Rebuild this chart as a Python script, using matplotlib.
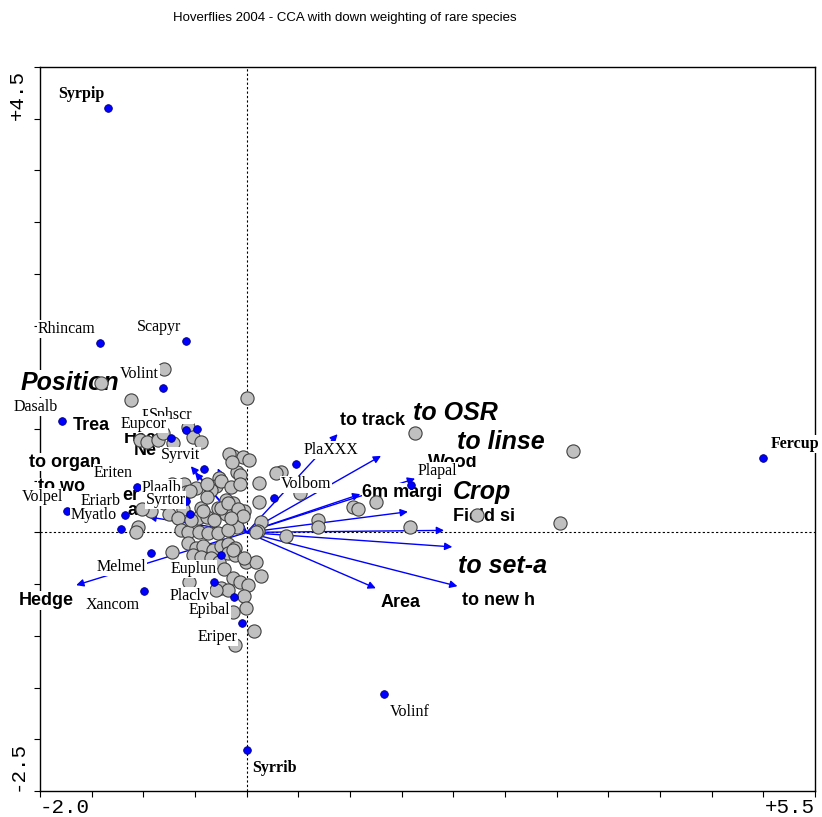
import matplotlib.pyplot as plt

# CCA site scores (grey circles)
site_x = [-0.80, -1.41, -1.12, 0.00, 1.63, 3.16, 2.23, 3.03, 1.58, 1.25,
          1.03, 1.08, 0.69, 0.69, 0.38, 0.52, 0.33, 0.12, 0.12, 0.14,
          0.11, -0.03, -0.13, -0.09, -0.09, -0.13, -0.04, 0.02, -0.09, -0.06,
          -0.17, -0.14, -0.27, -0.30, -0.35, -0.61, -0.49, -0.69, -0.59, -0.93,
          -0.80, -0.62, -0.44, -0.38, -0.28, -0.20, -0.47, -0.38, -0.32, -0.20,
          -1.05, -1.07, -1.01, -1.03, -0.96, -0.86, -0.81, -0.57, -0.52, -0.44,
          -0.71, -0.72, -0.75, -0.66, -0.64, -0.57, -0.54, -0.46, -0.37, -0.28,
          -0.18, -0.42, -0.25, -0.18, -0.08, -0.04, -0.15, 0.09, -0.57, -0.49,
          -0.42, -0.33, -0.25, -0.18, -0.11, -0.52, -0.44, -0.35, -0.27, -0.18,
          -0.11, -0.22, -0.01, 0.09, 0.14, -0.13, -0.06, 0.01, -0.25, -0.18,
          -0.30, -0.03, -0.01, -0.13, 0.07, -0.11, -0.56, -0.13, -0.03, -0.38,
          -0.25, -0.15, -0.06, 0.28, -0.72, -0.55]
site_y = [1.58, 1.44, 1.28, 1.30, 0.96, 0.79, 0.17, 0.09, 0.05, 0.29,
          0.25, 0.23, 0.12, 0.05, -0.03, 0.38, 0.58, 0.48, 0.29, 0.10,
          0.01, 0.21, 0.28, 0.12, 0.05, 0.74, 0.73, 0.70, 0.58, 0.56,
          0.76, 0.68, 0.53, 0.45, 0.41, 0.47, 0.43, 0.34, 0.39, 0.21,
          0.28, 0.23, 0.24, 0.34, 0.24, 0.31, 0.14, 0.15, 0.12, 0.18,
          0.05, 0.00, 0.23, 0.89, 0.87, 0.89, 0.96, 1.02, 0.92, 0.87,
          0.86, -0.19, 0.18, 0.14, 0.02, 0.00, 0.12, 0.00, -0.01, -0.01,
          0.02, 0.21, 0.24, 0.28, 0.23, 0.16, 0.14, 0.00, -0.10, -0.15,
          -0.13, -0.17, -0.13, -0.11, -0.15, -0.22, -0.24, -0.25, -0.29, -0.20,
          -0.22, -0.35, -0.29, -0.29, -0.42, -0.44, -0.48, -0.51, -0.54, -0.56,
          -0.56, -0.61, -0.73, -0.77, -0.95, -1.09, -0.48, -0.17, -0.25, 0.47,
          0.50, 0.44, 0.47, 0.57, 0.47, 0.40]

# species scores (blue dots)
species = ["Syrpip", "Rhincam", "Scapyr", "Volint", "Dasalb", "Plapel", "Sphscr",
           "Eupcor", "Syrvit", "Eriten", "Volpel", "Eriarb", "Myatlo", "Plaalb",
           "Syrtor", "Melmel", "Xancom", "Euplun", "Placlv", "Epibal", "Eriper",
           "Syrrib", "Volinf", "Fercup", "PlaXXX", "Volbom", "Plapal"]
spec_x = [-1.34, -1.42, -0.59, -0.81, -1.79, -0.59, -0.48, -0.73, -0.41, -1.06,
          -1.74, -1.18, -1.22, -0.59, -0.55, -0.93, -0.99, -0.25, -0.32, -0.12,
          -0.05, 0.00, 1.33, 5.00, 0.48, 0.26, 1.59]
spec_y = [4.10, 1.83, 1.85, 1.40, 1.08, 0.99, 1.00, 0.91, 0.61, 0.44,
          0.21, 0.17, 0.03, 0.30, 0.18, -0.20, -0.57, -0.22, -0.48, -0.62,
          -0.88, -2.10, -1.56, 0.72, 0.66, 0.33, 0.46]
spec_side = ["ul"] * 15 + ["ll"] * 6 + ["lr", "lr", "ur", "ur", "ur", "ur"]
bold_species = ["Syrpip", "Syrrib", "Fercup"]

# environmental variables (arrows)
env_names = ["to track", "", "Wood", "6m margi", "", "Field si", "", "to new h",
             "Area", "Hedge", "", "", "", "", ""]
env_x = [0.88, 1.30, 1.63, 1.10, 1.56, 1.91, 1.99, 2.04, 1.25, -1.65,
         -0.28, -0.54, -0.50, -0.95, -0.10]
env_y = [0.95, 0.74, 0.52, 0.37, 0.20, 0.02, -0.14, -0.52, -0.54, -0.51,
         0.62, 0.64, 0.58, 0.15, 0.08]

# nominal variables (centroid labels)
nominal_names = ["Position", "to OSR", "to linse", "Crop", "to set-a"]
nominal_x = [-2.19, 1.61, 2.04, 1.99, 2.05]
nominal_y = [1.44, 1.15, 0.87, 0.39, -0.32]

# labels of short arrows inside the crowded centre
crowd_names = ["Trea", "Hea", "Ne", "to organ", "to wo", "er", "ac"]
crowd_x = [-1.68, -1.19, -1.09, -2.11, -2.02, -1.20, -1.15]
crowd_y = [1.03, 0.91, 0.79, 0.68, 0.44, 0.36, 0.21]

# label offsets (points)
side_off = {"ul": (-3, 10, "right"), "ll": (-3, -10, "right"),
            "ur": (5, 10, "left"), "lr": (4, -13, "left")}
env_off = {"to track": (2, 10, "left"), "Wood": (9, 11.5, "left"),
           "6m margi": (1.5, 1.5, "left"), "Field si": (6.5, 10, "left"),
           "to new h": (3.5, -10, "left"), "Area": (3.5, -10, "left"),
           "Hedge": (-2, -11, "right")}

sans = "Liberation Sans"
serif = "Liberation Serif"
mono = "Liberation Mono"
white = dict(boxstyle="square,pad=0.05", fc="white", ec="none")

fig = plt.figure(figsize=(8.22, 8.17), dpi=100)
ax = fig.add_axes([40 / 822, 1 - 791 / 817, 775 / 822, 724 / 817])
ax.set_xlim(-2.0, 5.5)
ax.set_ylim(-2.5, 4.5)

# dotted zero lines
ax.axhline(0, color="black", lw=0.8, ls=(0, (2, 2)), zorder=0.5)
ax.axvline(0, color="black", lw=0.8, ls=(0, (2, 2)), zorder=0.5)

# arrows
for name, x, y in zip(env_names, env_x, env_y):
    ax.annotate("", xy=(x, y), xytext=(0, 0),
                arrowprops=dict(arrowstyle="-|>", color="#0000ff", lw=1.0,
                                mutation_scale=11, shrinkA=0, shrinkB=0),
                zorder=1)
    if name:
        dx, dy, ha = env_off[name]
        ax.annotate(name, xy=(x, y), xytext=(dx, dy), textcoords="offset points",
                    ha=ha, va="center", fontsize=13, fontweight="bold",
                    family=sans, bbox=white, zorder=2.6, annotation_clip=False)

for name, x, y in zip(nominal_names, nominal_x, nominal_y):
    ax.text(x, y, name, ha="left", va="center", fontsize=18, fontweight="bold",
            fontstyle="italic", family=sans, bbox=white, zorder=2.6, clip_on=False)

for name, x, y in zip(crowd_names, crowd_x, crowd_y):
    ax.text(x, y, name, ha="left", va="center", fontsize=13, fontweight="bold",
            family=sans, bbox=white, zorder=2.6, clip_on=False)

# sites
ax.plot(site_x, site_y, "o", ms=9.5, mfc="#c0c0c0", mec="#404040", mew=0.8,
        ls="none", zorder=3)

# species
ax.plot(spec_x, spec_y, "o", ms=5.5, mfc="#0000ff", mec="#000080", mew=0.6,
        ls="none", zorder=4)
for name, x, y, side in zip(species, spec_x, spec_y, spec_side):
    dx, dy, ha = side_off[side]
    ax.annotate(name, xy=(x, y), xytext=(dx, dy), textcoords="offset points",
                ha=ha, va="center", fontsize=11.5, family=serif,
                fontweight="bold" if name in bold_species else "normal",
                bbox=white, zorder=5, annotation_clip=False)

# frame and ticks
for s in ax.spines.values():
    s.set_linewidth(1.0)
    s.set_zorder(2.5)
ax.set_xticks([-2.0 + 0.5 * i for i in range(16)])
ax.set_yticks([-2.5 + 0.5 * i for i in range(15)])
ax.tick_params(direction="out", length=4, width=0.8, labelbottom=False,
               labelleft=False)

tk = dict(xycoords="axes fraction", textcoords="offset points",
          family=mono, fontsize=15)
ax.annotate("-2.0", xy=(0, 0), xytext=(0, -5), ha="left", va="top", **tk)
ax.annotate("+5.5", xy=(1, 0), xytext=(0, -5), ha="right", va="top", **tk)
ax.annotate("+4.5", xy=(0, 1), xytext=(-16.5, -2), ha="center", va="top",
            rotation=90, **tk)
ax.annotate("-2.5", xy=(0, 0), xytext=(-16.5, 0), ha="center", va="bottom",
            rotation=90, **tk)

fig.text(345 / 822, 1 - 18 / 817,
         "Hoverflies 2004 - CCA with down weighting of rare species",
         ha="center", va="center", fontsize=9.5, family=sans)

fig.savefig("out.png", dpi=100)
